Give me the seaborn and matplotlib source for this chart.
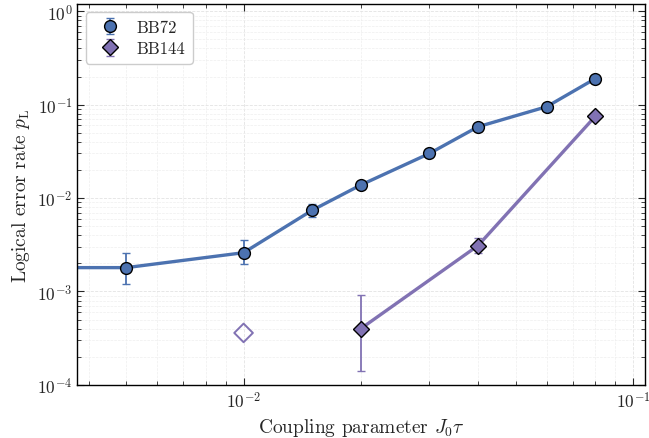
import numpy as np
import pandas as pd
import matplotlib
matplotlib.use("Agg")
import matplotlib.pyplot as plt
import seaborn as sns

# ---- data ----
bb72_x = [0.002, 0.005, 0.01, 0.015, 0.02, 0.03, 0.04, 0.06, 0.08]
bb72_y = [1.8e-3, 1.8e-3, 2.6e-3, 7.4e-3, 1.38e-2, 3.0e-2, 5.8e-2, 9.5e-2, 0.19]
bb72_lo = [1.8e-3, 1.2e-3, 1.95e-3, 6.3e-3, 1.25e-2, 2.8e-2, 5.5e-2, 9.1e-2, 0.185]
bb72_hi = [1.8e-3, 2.6e-3, 3.55e-3, 8.7e-3, 1.5e-2, 3.2e-2, 6.1e-2, 9.9e-2, 0.195]

bb144_x = [0.02, 0.04, 0.08]
bb144_y = [4.0e-4, 3.1e-3, 7.5e-2]
bb144_lo = [1.4e-4, 2.6e-3, 7.2e-2]
bb144_hi = [9.2e-4, 3.7e-3, 7.8e-2]

bb144_bound_x = [0.01]
bb144_bound_y = [3.6e-4]

c72 = "#4C72B0"
c144 = "#8172B3"

sns.set_style("ticks")
plt.rcParams.update({
    "font.family": "serif",
    "font.serif": ["cmr10", "DejaVu Serif"],
    "mathtext.fontset": "cm",
    "axes.formatter.use_mathtext": True,
    "axes.unicode_minus": False,
})

fig, ax = plt.subplots(figsize=(6.49, 4.39), dpi=100)

df72 = pd.DataFrame({"x": bb72_x, "y": bb72_y})
df144 = pd.DataFrame({"x": bb144_x, "y": bb144_y})
sns.lineplot(data=df72, x="x", y="y", ax=ax, color=c72, lw=2.4, zorder=2)
sns.lineplot(data=df144, x="x", y="y", ax=ax, color=c144, lw=2.4, zorder=2)

y72 = np.array(bb72_y)
ax.errorbar(bb72_x, bb72_y,
            yerr=[y72 - np.array(bb72_lo), np.array(bb72_hi) - y72],
            fmt="o", color=c72, mfc=c72, mec="black", mew=1.0, ms=8.5,
            ecolor=c72, elinewidth=1.3, capsize=3, capthick=1.3,
            label="BB72", zorder=3)
y144 = np.array(bb144_y)
ax.errorbar(bb144_x, bb144_y,
            yerr=[y144 - np.array(bb144_lo), np.array(bb144_hi) - y144],
            fmt="D", color=c144, mfc=c144, mec="black", mew=1.0, ms=8,
            ecolor=c144, elinewidth=1.3, capsize=3, capthick=1.3,
            label="BB144", zorder=3)
sns.scatterplot(x=bb144_bound_x, y=bb144_bound_y, ax=ax, marker="D",
                s=90, facecolor="none", edgecolor=c144, linewidth=1.4,
                zorder=3, legend=False)

ax.set_xscale("log")
ax.set_yscale("log")
ax.set_xlim(0.00374, 0.1074)
ax.set_ylim(1e-4, 1.2)

ax.set_xlabel(r"Coupling parameter $J_0\tau$", fontsize=14)
ax.set_ylabel(r"Logical error rate $p_\mathrm{L}$", fontsize=14, labelpad=4)
ax.tick_params(which="both", direction="in", top=True, right=True, labelsize=12.5)
ax.tick_params(which="major", length=5, width=0.8)
ax.tick_params(which="minor", length=3, width=0.6)
ax.grid(True, which="major", ls="--", lw=0.6, color="#e3e3e3", zorder=0)
ax.grid(True, which="minor", ls="--", lw=0.5, color="#eeeeee", zorder=0)
for sp in ax.spines.values():
    sp.set_linewidth(1.0)
    sp.set_color("black")

leg = ax.legend(loc="upper left", fontsize=12, frameon=True, fancybox=True,
                edgecolor="#cccccc", framealpha=1.0, handletextpad=0.6,
                borderpad=0.45, labelspacing=0.35)

fig.subplots_adjust(left=0.119, right=0.994, top=0.989, bottom=0.121)
fig.savefig("out.png", dpi=100)
